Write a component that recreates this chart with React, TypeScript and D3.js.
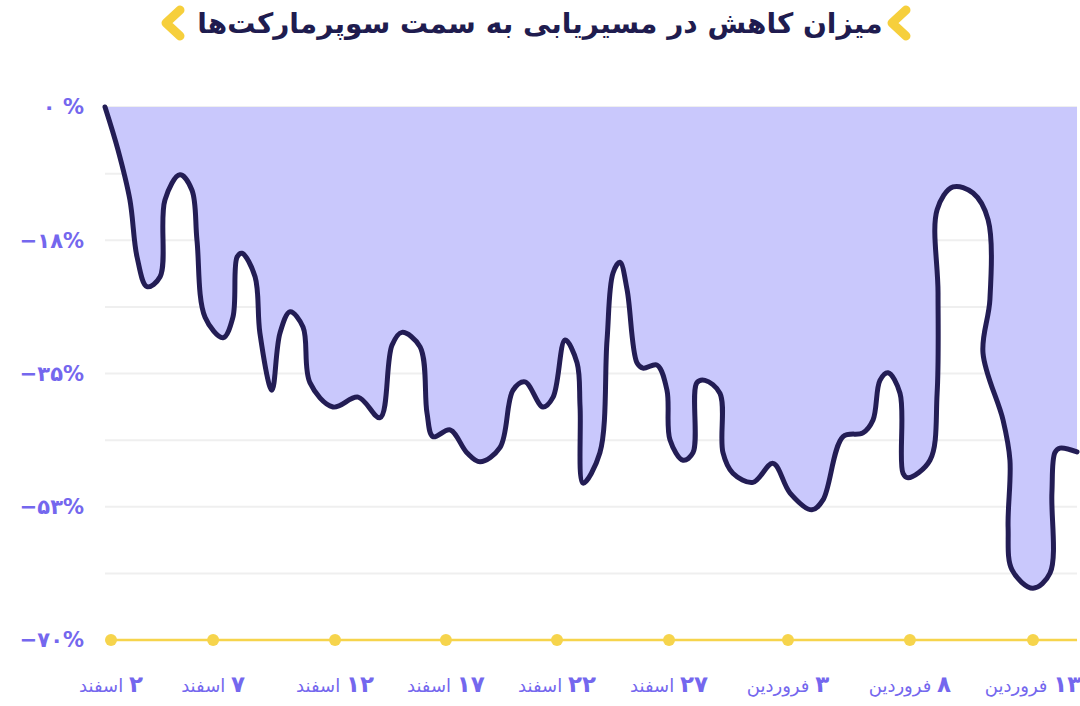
import * as d3 from 'd3';

// readings: day offset from 2 Esfand, and percent change
const days = [
  -0.26, 0.3, 0.82, 1.13, 1.56, 2.13, 2.34, 2.99, 3.51, 3.73, 4.08, 4.86, 5.29, 5.47, 5.68, 6.25, 6.46, 6.98, 7.33,
  7.77, 8.33, 8.63, 9.63, 10.72, 11.67, 12.19, 12.62, 13.41, 13.71, 13.97, 14.71, 15.44, 16.01, 16.88, 17.44, 17.96,
  18.74, 19.18, 19.7, 20.22, 20.35, 20.48, 21.21, 21.52, 21.78, 22.08, 22.39, 22.82, 23.08, 23.69, 24.12, 24.25, 24.82,
  25.25, 25.42, 25.77, 26.42, 26.55, 26.98, 27.85, 28.72, 29.46, 30.41, 30.89, 31.76, 32.62, 33.06, 33.36, 33.71,
  34.23, 34.36, 34.58, 35.53, 35.84, 35.88, 35.84, 36.53, 37.4, 38.05, 38.13, 37.83, 38.7, 39.0, 38.92, 39.09, 40.0,
  40.74, 40.82, 40.95, 41.17, 41.91,
];
const change = [
  0, -5.6, -12.2, -19.7, -23.6, -22.3, -12.2, -8.9, -10.9, -17.5, -27.6, -30.3, -27.6, -19.7, -19.2, -22.3, -29.7,
  -37.2, -29.7, -26.9, -28.9, -36.2, -39.4, -38.1, -40.8, -31.3, -29.6, -31.5, -40.2, -43.3, -42.4, -45.4, -46.6,
  -44.7, -37.2, -36.1, -39.4, -38.1, -30.6, -33.6, -39.4, -49.4, -45.4, -30.6, -21.8, -20.4, -24.0, -33.6, -34.3,
  -33.9, -37.2, -43.7, -46.4, -45.4, -36.2, -35.9, -37.6, -45.4, -48.1, -49.3, -46.8, -50.7, -52.9, -51.6, -43.3,
  -42.8, -41.1, -35.9, -34.9, -37.6, -48.1, -48.7, -46.4, -37.6, -24.4, -13.5, -10.5, -11.3, -14.8, -25.3, -32.3,
  -41.1, -46.4, -55.2, -60.8, -63.2, -61.2, -50.7, -45.4, -44.8, -45.3,
];

// the ticks in the picture are not evenly spaced; these are where they sit
const xTickDays = [0, 4.43, 9.72, 14.53, 19.35, 24.21, 29.37, 34.66, 40];
const xTickNums = ['۲', '۷', '۱۲', '۱۷', '۲۲', '۲۷', '۳', '۸', '۱۳'];
const xTickMonths = ['اسفند', 'اسفند', 'اسفند', 'اسفند', 'اسفند', 'اسفند', 'فروردین', 'فروردین', 'فروردین'];

const yTicks = [0, -17.5, -35, -52.5, -70];
const yTickLabels = ['۰ %', '−۱۸%', '−۳۵%', '−۵۳%', '−۷۰%'];
const yGrid = d3.range(0, -70, -8.75);

const title = 'میزان کاهش  در مسیریابی به سمت سوپرمارکت‌ها';

export default function App() {
  const width = 1080;
  const height = 706;
  const font = '"DejaVu Sans", sans-serif';
  const labelColor = '#7467ee';

  const x = d3.scaleLinear().domain([0, 40]).range([111, 1033]);
  const y = d3.scaleLinear().domain([-70, 0]).range([640, 107]);
  const left = x(days[0]);
  const right = x(days[days.length - 1]);

  const pts: [number, number][] = days.map((d, i) => [d, change[i]]);
  const curve = d3.curveCatmullRom.alpha(0.5);
  const line = d3
    .line<[number, number]>()
    .x((d) => x(d[0]))
    .y((d) => y(d[1]))
    .curve(curve);
  const area = d3
    .area<[number, number]>()
    .x((d) => x(d[0]))
    .y0(y(0))
    .y1((d) => y(d[1]))
    .curve(curve);

  return (
    <svg width={width} height={height} style={{ position: 'absolute', left: 0, top: 0, background: '#fff' }}>
      {/* title with the two yellow chevrons */}
      <g fill="none" stroke="#f6cf3c" strokeWidth={9} strokeLinecap="round" strokeLinejoin="round">
        <polyline points="180,10 166,23 180,36" />
        <polyline points="906,10 892,23 906,36" />
      </g>
      <text
        x={540}
        y={33}
        direction="rtl"
        textAnchor="middle"
        fontFamily={font}
        fontWeight="bold"
        fontSize={28}
        fill="#1f1c4f"
      >
        {title}
      </text>

      {/* gridlines */}
      {yGrid.map((v) => (
        <line key={v} x1={left} x2={right} y1={y(v)} y2={y(v)} stroke="#efefef" strokeWidth={2} />
      ))}

      <path d={area(pts) ?? ''} fill="#c9c8fc" />
      <path d={line(pts) ?? ''} fill="none" stroke="#231d55" strokeWidth={5} strokeLinecap="round" />

      {/* y labels */}
      {yTicks.map((v, i) => (
        <text
          key={v}
          x={84}
          y={y(v)}
          dy="0.35em"
          textAnchor="end"
          fontFamily={font}
          fontWeight="bold"
          fontSize={21}
          fill={labelColor}
        >
          {yTickLabels[i]}
        </text>
      ))}

      {/* x axis */}
      <line x1={x(0)} x2={right} y1={y(-70)} y2={y(-70)} stroke="#f6d44c" strokeWidth={2.5} />
      {xTickDays.map((d, i) => (
        <g key={d}>
          <circle cx={x(d)} cy={y(-70)} r={6} fill="#f6d44c" />
          <text
            x={x(d)}
            y={692}
            direction="rtl"
            textAnchor="middle"
            fontFamily={font}
            fill={labelColor}
          >
            <tspan fontWeight="bold" fontSize={23}>
              {xTickNums[i]}
            </tspan>
            <tspan fontSize={18}> {xTickMonths[i]}</tspan>
          </text>
        </g>
      ))}
    </svg>
  );
}
